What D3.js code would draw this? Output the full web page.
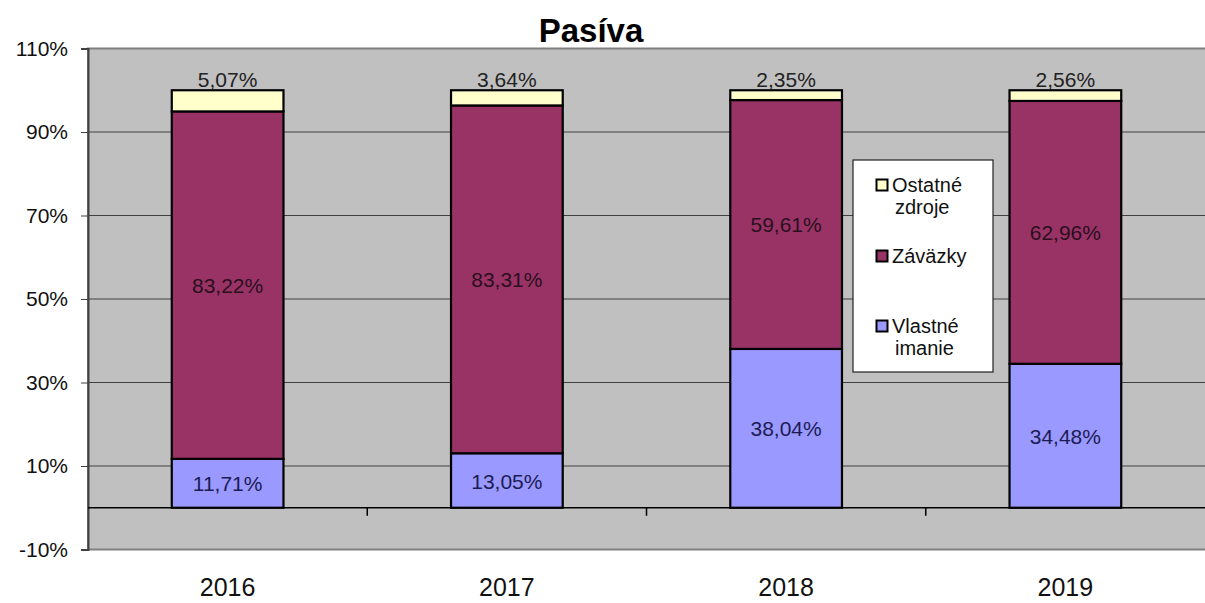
<!DOCTYPE html>
<html><head><meta charset="utf-8">
<script src="https://cdn.jsdelivr.net/npm/d3@7"></script>
<style>body{margin:0;background:#fff;}svg{display:block;font-family:Arial,"Liberation Sans",sans-serif;}</style>
</head><body>
<svg id="c" width="1205" height="603"></svg>
<script>
const years = ["2016","2017","2018","2019"];
const vlastneImanie = [11.71, 13.05, 38.04, 34.48];
const zavazky = [83.22, 83.31, 59.61, 62.96];
const ostatneZdroje = [5.07, 3.64, 2.35, 2.56];
const yTicks = [-10, 10, 30, 50, 70, 90, 110];

const svg = d3.select("#c");
const L = 88, R = 1205, T = 48.5, B = 549.5;
const x = d3.scaleBand().domain(years).range([L, L + 4*279.25]).paddingInner(0.6).paddingOuter(0.3);
const xb = d3.scaleBand().domain(years).range([L, L + 4*279.25]).padding(0);
const y = d3.scaleLinear().domain([-10, 110]).range([B, T]);
const fmt = v => d3.format(".2f")(v).replace(".", ",") + "%";

// plot background
svg.append("rect").attr("x", L).attr("y", T).attr("width", R - L + 2).attr("height", B - T)
  .attr("fill", "#c0c0c0").attr("stroke", "#808080").attr("stroke-width", 2);

// gridlines
svg.append("g").selectAll("line").data(yTicks.filter(t => t > -10 && t < 110)).join("line")
  .attr("x1", L).attr("x2", R).attr("y1", d => y(d)).attr("y2", d => y(d))
  .attr("stroke", "#404040").attr("stroke-width", 1.2);

// y axis
const yAxis = d3.axisLeft(y).tickValues(yTicks).tickFormat(d => d + "%").tickSize(7).tickPadding(13);
const ga = svg.append("g").attr("transform", `translate(${L},0)`).call(yAxis);
ga.select(".domain").attr("stroke", "#404040").attr("stroke-width", 2);
ga.selectAll(".tick line").attr("stroke", "#404040");
ga.selectAll("text").attr("font-size", 21).attr("fill", "#111").attr("font-family", "Arial, 'Liberation Sans', sans-serif");

// stacked data
const data = years.map((yr, i) => ({year: yr, v: vlastneImanie[i], z: zavazky[i], o: ostatneZdroje[i]}));
const stack = d3.stack().keys(["v", "z", "o"])(data);
const colors = {v: "#9999ff", z: "#993366", o: "#ffffcc"};

const bars = svg.append("g");
stack.forEach(layer => {
  bars.selectAll(null).data(layer).join("rect")
    .attr("x", d => x(d.data.year)).attr("width", x.bandwidth())
    .attr("y", d => y(d[1])).attr("height", d => y(d[0]) - y(d[1]))
    .attr("fill", colors[layer.key]).attr("stroke", "#000").attr("stroke-width", 2.2);
});

// zero line (category axis)
svg.append("line").attr("x1", L).attr("x2", R).attr("y1", y(0)).attr("y2", y(0)).attr("stroke", "#000").attr("stroke-width", 1.5);
svg.append("g").selectAll("line").data(years.slice(1)).join("line")
  .attr("x1", d => xb(d)).attr("x2", d => xb(d)).attr("y1", y(0)).attr("y2", y(0) + 8)
  .attr("stroke", "#000").attr("stroke-width", 1.5);

// category labels
svg.append("g").selectAll("text").data(years).join("text")
  .attr("x", d => xb(d) + xb.bandwidth()/2).attr("y", 596).attr("text-anchor", "middle")
  .attr("font-size", 25).attr("fill", "#111").text(d => d);

// data labels
const lbl = svg.append("g").attr("font-size", 21).attr("text-anchor", "middle");
stack.forEach(layer => {
  lbl.selectAll(null).data(layer).join("text")
    .attr("x", d => x(d.data.year) + x.bandwidth()/2)
    .attr("y", d => layer.key === "o" ? y(d[1]) - 3 : (y(d[0]) + y(d[1]))/2 + 8)
    .attr("fill", layer.key === "v" ? "#1c1c55" : (layer.key === "z" ? "#2a0f1e" : "#222"))
    .text(d => fmt(d.data[layer.key]));
});

// title
svg.append("text").attr("x", 591).attr("y", 42).attr("text-anchor", "middle")
  .attr("font-size", 33).attr("font-weight", "bold").attr("fill", "#000").text("Pasíva");

// legend
const lg = svg.append("g");
lg.append("rect").attr("x", 853).attr("y", 160).attr("width", 140).attr("height", 212)
  .attr("fill", "#fff").attr("stroke", "#222").attr("stroke-width", 1.2);
const legendItems = [
  {key: "o", lines: ["Ostatné", "zdroje"], y: 192},
  {key: "z", lines: ["Záväzky"], y: 263},
  {key: "v", lines: ["Vlastné", "imanie"], y: 333}
];
legendItems.forEach(it => {
  lg.append("rect").attr("x", 876.5).attr("y", it.y - 12.5).attr("width", 11).attr("height", 11)
    .attr("fill", colors[it.key]).attr("stroke", "#000").attr("stroke-width", 2);
  it.lines.forEach((t, j) => {
    lg.append("text").attr("x", j === 0 ? 892 : 895).attr("y", it.y + j*22)
      .attr("font-size", 20).attr("fill", "#111").text(t);
  });
});
</script>
</body></html>
